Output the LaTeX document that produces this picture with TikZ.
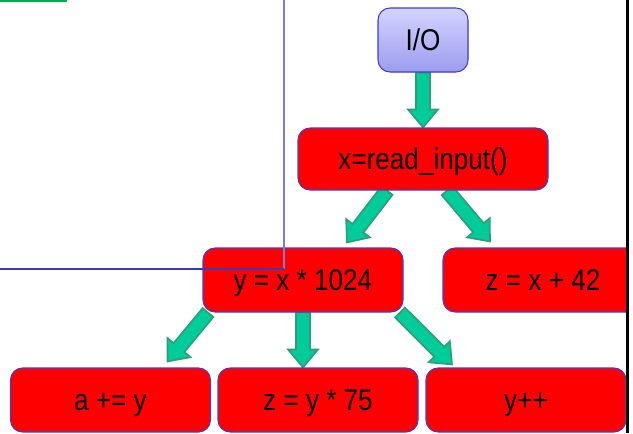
\documentclass[tikz,border=0pt]{standalone}
\usepackage{fontspec}
\setmainfont[FakeStretch=0.87]{Liberation Sans}
\usetikzlibrary{calc,backgrounds}

\definecolor{boxred}{HTML}{FF0000}
\definecolor{boxline}{HTML}{3F3FCF}
\definecolor{arrowfill}{HTML}{00CC99}
\definecolor{arrowline}{HTML}{2E9E78}
\definecolor{iotop}{HTML}{D4D4FF}
\definecolor{iobot}{HTML}{9C9CF0}
\definecolor{guideblue}{HTML}{7B7BE0}
\definecolor{guidedark}{HTML}{3A3AB8}
\definecolor{topgreen}{HTML}{00B050}

% block arrow from coordinate #1 to tip #2
\newcommand{\fatarrow}[2]{%
  \coordinate (ah) at ($(#2)!13.5pt!(#1)$);
  \filldraw[fatarrow] ($(#1)!5.25pt!90:(#2)$) -- ($(ah)!5.25pt!90:(#2)$)
    -- ($(ah)!11.25pt!90:(#2)$) -- (#2) -- ($(ah)!11.25pt!-90:(#2)$)
    -- ($(ah)!5.25pt!-90:(#2)$) -- ($(#1)!5.25pt!-90:(#2)$) -- cycle;}

\begin{document}
\begin{tikzpicture}[x=0.75pt,y=-0.75pt]
	\tikzstyle{stmt}=[draw=boxline,fill=boxred,rounded corners=9pt,line width=0.8pt,minimum width=150pt,minimum height=48pt,inner sep=0pt,text height=20pt,text depth=4pt,font=\fontsize{22.5}{27}\selectfont]
	\tikzstyle{fatarrow}=[fill=arrowfill,draw=arrowline,line width=1.2pt,line join=miter]
	\useasboundingbox (0,0) rectangle (633,433);
	\node[stmt,minimum width=67.5pt,top color=iotop,bottom color=iobot](io) at (423,40) {I/O};
	\node[stmt,minimum width=187.5pt,minimum height=46.5pt](read) at (423,159) {x=read\_input()};
	\node[stmt](y) at (303,280) {y = x * 1024};
	\begin{scope}
		\clip (0,0) rectangle (628,433);
		\node[stmt](z) at (543,280) {z = x + 42};
	\end{scope}
	\node[stmt](a) at (110.5,400) {a += y};
	\node[stmt](z2) at (318,400) {z = y * 75};
	\node[stmt](inc) at (526,400) {y++};
	\begin{pgfonlayer}{background}
		\coordinate (r1) at ($(read.south)+(-36,0)$);
		\coordinate (r2) at ($(read.south)+(24,0)$);
		\coordinate (y1) at ($(y.south)+(-95,0)$);
		\coordinate (y3) at ($(y.south)+(97,0)$);
		\coordinate (ty) at ($(y.north)+(44,-5)$);
		\coordinate (tz) at ($(z.north)+(-53,-6)$);
		\coordinate (ta) at ($(a.north)+(57,-6)$);
		\coordinate (tz2) at (y.south |- z2.north);
		\coordinate (tinc) at ($(inc.north)+(-74,-3)$);
		\fatarrow{io.south}{read.north}
		\fatarrow{r1}{ty}
		\fatarrow{r2}{tz}
		\fatarrow{y1}{ta}
		\fatarrow{y.south}{tz2}
		\fatarrow{y3}{tinc}
	\end{pgfonlayer}
	\draw[topgreen,line width=1.5pt](0,0.8) -- (67,0.8);
	\draw[guideblue,line width=0.8pt](284,0) -- (284,269);
	\draw[guidedark,line width=0.8pt](0,269) -- (284,269);
	\draw[black,line width=1.8pt](627.5,0) -- (627.5,433);
\end{tikzpicture}
\end{document}
